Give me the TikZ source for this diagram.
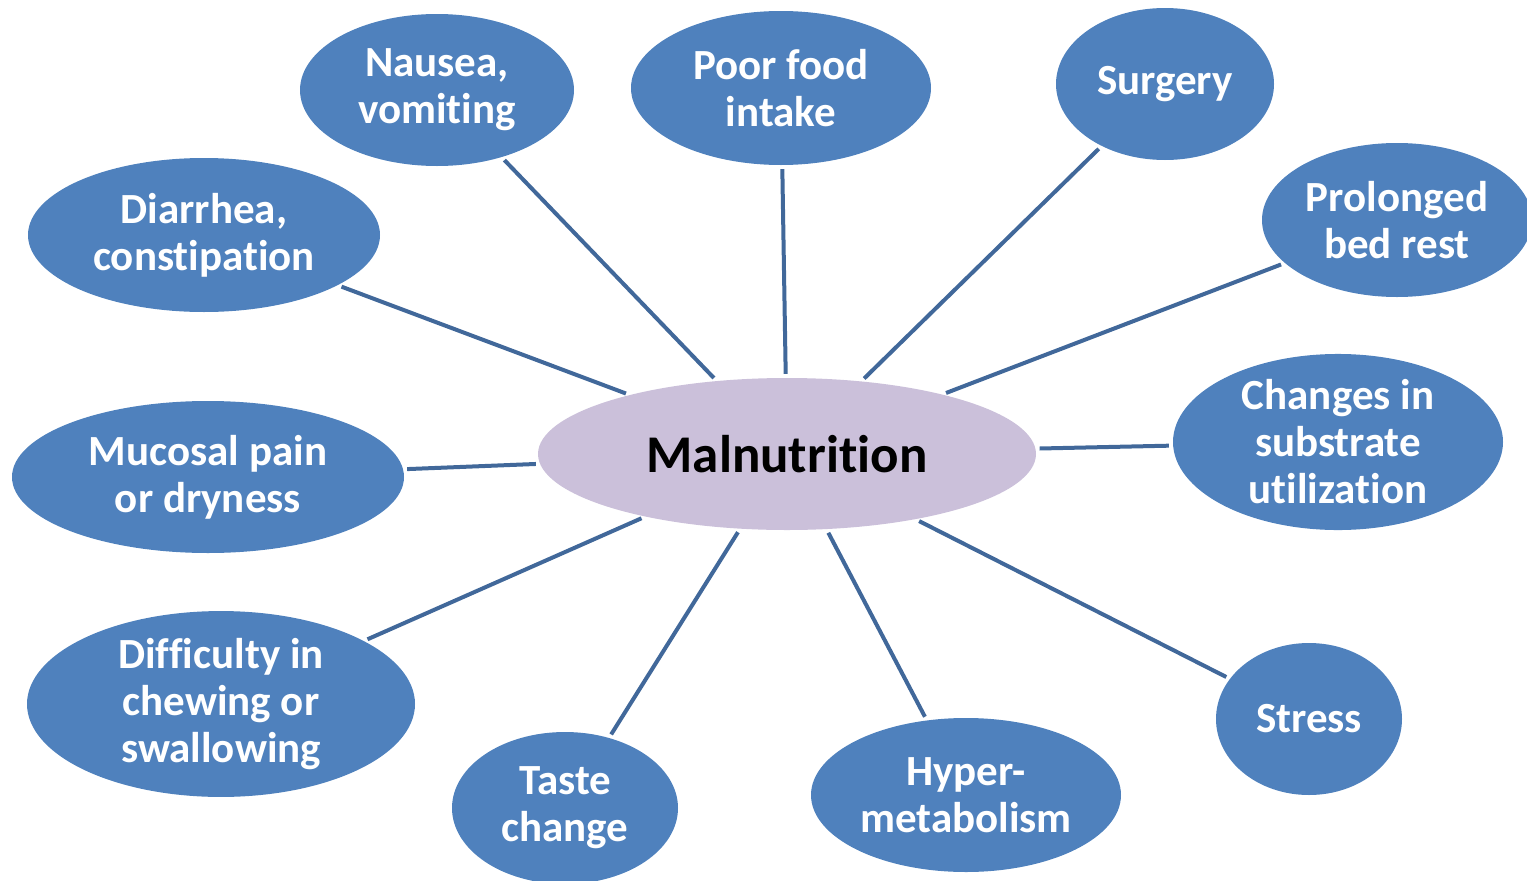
\documentclass[tikz,border=0pt]{standalone}
\usepackage{fontspec}
\setmainfont[Ligatures=NoCommon]{Carlito}
\usetikzlibrary{shapes.geometric}
\definecolor{bub}{HTML}{4F81BD}
\definecolor{hub}{HTML}{CBC0DA}
\definecolor{lnk}{HTML}{41689A}
\tikzset{
  bubble/.style={ellipse, fill=bub, inner sep=0pt, text=white, align=center,
    font=\fontsize{43}{47}\selectfont\bfseries},
  hubnode/.style={ellipse, fill=hub, inner sep=0pt, text=black,
    font=\fontsize{53}{60}\selectfont\bfseries},
  link/.style={draw=lnk, line width=4pt, shorten <=4pt, shorten >=4pt}
}
\begin{document}
\begin{tikzpicture}[x=1pt,y=-1pt]
\useasboundingbox (0,0) rectangle (1527,881);
\clip (0,0) rectangle (1527,881);
\node[hubnode, minimum width=498pt, minimum height=152pt] (mal) at (787,454) {Malnutrition};
\node[bubble, minimum width=274pt, minimum height=152pt] (nau) at (437,90) {Nausea,\\vomiting};
\node[bubble, minimum width=300pt, minimum height=154pt] (poor) at (781,88) {Poor food\\intake};
\node[bubble, minimum width=218pt, minimum height=152pt] (sur) at (1165,84) {Surgery};
\node[bubble, minimum width=270pt, minimum height=154pt] (bed) at (1397,220) {Prolonged\\bed rest};
\node[bubble, minimum width=352pt, minimum height=154pt] (dia) at (204,235) {Diarrhea,\\constipation};
\node[bubble, minimum width=330pt, minimum height=154pt] (chg) at (1338,442) {Changes in\\substrate\\utilization};
\node[bubble, minimum width=392pt, minimum height=152pt] (muc) at (208,477) {Mucosal pain\\or dryness};
\node[bubble, minimum width=388pt, minimum height=154pt] (dif) at (221,704) {Difficulty in\\chewing or\\swallowing};
\node[bubble, minimum width=226pt, minimum height=152pt] (tas) at (565,808) {Taste\\change};
\node[bubble, minimum width=310pt, minimum height=154pt] (hyp) at (966,795) {Hyper-\\metabolism};
\node[bubble, minimum width=186pt, minimum height=152pt] (str) at (1309,719) {Stress};
\foreach \n in {nau,poor,sur,bed,dia,chg,muc,dif,tas,hyp,str}
  \draw[link] (\n) -- (mal);
\end{tikzpicture}
\end{document}
